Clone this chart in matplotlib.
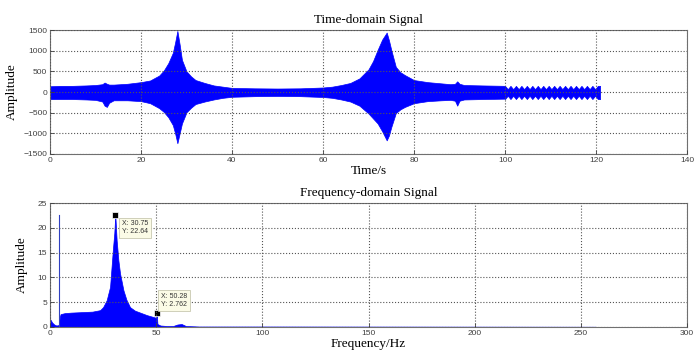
import matplotlib
matplotlib.use('Agg')
import matplotlib.pyplot as plt

# time-domain envelope (seconds, amplitude)
t_env = [0, 2, 5, 8, 10, 11.5, 12, 12.5, 13, 14, 17, 20, 22, 24, 25, 26, 27, 27.5, 28, 28.5,
         29, 30, 31, 32, 34, 36, 38, 40, 45, 50, 55, 60, 62, 64, 66, 68, 70, 71, 72, 73, 74,
         74.5, 75, 76, 77, 78, 80, 83, 86, 88, 89, 89.5, 90, 91, 95, 100]
t_upper = [140, 150, 150, 160, 170, 190, 230, 200, 180, 180, 200, 240, 280, 400, 520, 700, 950, 1200, 1480, 1150,
           780, 500, 380, 290, 220, 160, 130, 100, 90, 85, 90, 110, 130, 170, 220, 330, 550, 750, 1020, 1270, 1440,
           1250, 1020, 610, 480, 410, 290, 240, 210, 190, 200, 260, 200, 170, 160, 150]
t_lower = [-170, -170, -170, -180, -190, -230, -330, -360, -260, -200, -200, -220, -270, -390, -480, -610, -800, -1000, -1240, -1000,
           -760, -490, -380, -290, -230, -180, -140, -115, -100, -95, -100, -120, -140, -180, -230, -330, -520, -640, -760, -950, -1170,
           -1050, -850, -510, -420, -360, -270, -220, -200, -190, -210, -330, -210, -180, -170, -160]

# toothed tail of the signal (100 s to 121 s)
t_tail = [100, 100.6, 101.2, 101.8, 102.4, 103.0, 103.6, 104.2, 104.8, 105.4, 106.0, 106.6, 107.2, 107.8,
          108.4, 109.0, 109.6, 110.2, 110.8, 111.4, 112.0, 112.6, 113.2, 113.8, 114.4, 115.0, 115.6, 116.2,
          116.8, 117.4, 118.0, 118.6, 119.2, 119.8, 120.4, 120.9]
tail_upper = [150, 70, 150, 70, 150, 70, 150, 70, 150, 70, 150, 70, 150, 70, 150, 70, 150, 70,
              150, 70, 150, 70, 150, 70, 150, 70, 150, 70, 150, 70, 150, 70, 150, 70, 150, 150]
tail_lower = [-170, -90, -170, -90, -170, -90, -170, -90, -170, -90, -170, -90, -170, -90, -170, -90, -170, -90,
              -170, -90, -170, -90, -170, -90, -170, -90, -170, -90, -170, -90, -170, -90, -170, -90, -170, -170]

# frequency-domain envelope (Hz, amplitude)
f_env = [0, 0.5, 1, 2, 3, 4.3, 4.6, 5, 7, 10, 15, 20, 23.6, 25, 26.7, 28.3, 29.6, 30.3, 30.75, 31.4,
         32.2, 33, 34.6, 36, 37.7, 40, 45.6, 49.6, 50.0, 50.28, 50.6, 52, 55, 58, 60, 62, 64, 70, 100, 257]
f_amp = [1.6, 1.3, 0.9, 0.5, 0.3, 0.4, 2.0, 2.6, 2.8, 2.9, 3.0, 3.1, 3.4, 4.0, 5.4, 8.1, 15.5, 19.0, 22.64, 17.5,
         13.5, 10.8, 7.4, 5.5, 4.0, 3.3, 2.4, 1.9, 1.6, 2.762, 0.6, 0.3, 0.2, 0.2, 0.5, 0.6, 0.2, 0.1, 0.1, 0.05]
spike_f = 4.1
spike_amp = 22.6

tips = [(30.75, 22.64), (50.28, 2.762)]
tip_offsets = [((5, -4), 'top'), ((3, 4), 'bottom')]

plt.rcParams['font.family'] = 'Liberation Serif'
fig = plt.figure(figsize=(6.97, 3.54), dpi=100)
blue = (0, 0, 1)

def style(ax):
    ax.grid(True, linestyle=':', color='#555555', linewidth=0.8)
    ax.set_axisbelow(False)
    for s in ax.spines.values():
        s.set_color('#707070')
        s.set_linewidth(0.8)
    ax.tick_params(direction='in', length=3, width=0.6, color='#404040',
                   labelsize=6, labelcolor='#404040', pad=2)
    for lab in ax.get_xticklabels() + ax.get_yticklabels():
        lab.set_fontfamily('Liberation Sans')

ax1 = fig.add_axes([0.0717, 0.565, 0.914, 0.350])
ax1.fill_between(t_env, t_lower, t_upper, color=blue, linewidth=0.5, edgecolor=blue)
ax1.fill_between(t_tail, tail_lower, tail_upper, color=blue, linewidth=0.5, edgecolor=blue)
ax1.set_xlim(0, 140)
ax1.set_ylim(-1500, 1500)
ax1.set_xticks(range(0, 141, 20))
ax1.set_yticks(range(-1500, 1501, 500))
style(ax1)
ax1.set_title('Time-domain Signal', fontsize=9.5, pad=5)
ax1.set_xlabel('Time/s', fontsize=9.5, labelpad=1)
ax1.set_ylabel('Amplitude', fontsize=9.5)
ax1.yaxis.set_label_coords(-0.050, 0.5)

ax2 = fig.add_axes([0.0717, 0.0763, 0.914, 0.350])
ax2.fill_between(f_env, 0, f_amp, color=blue, linewidth=0.5, edgecolor=blue)
ax2.plot([spike_f, spike_f], [0, spike_amp], color='#3040c0', linewidth=0.8)
ax2.set_xlim(0, 300)
ax2.set_ylim(0, 25)
ax2.set_xticks(range(0, 301, 50))
ax2.set_yticks(range(0, 26, 5))
style(ax2)
ax2.set_title('Frequency-domain Signal', fontsize=9.5, pad=5)
ax2.set_xlabel('Frequency/Hz', fontsize=9.5, labelpad=1)
ax2.set_ylabel('Amplitude', fontsize=9.5)
ax2.yaxis.set_label_coords(-0.035, 0.5)

for (x, y), (off, va) in zip(tips, tip_offsets):
    ax2.plot(x, y, 's', color='black', markersize=4, markeredgecolor='white', markeredgewidth=0.5)
    ax2.annotate('X: %s\nY: %s' % (x, y), xy=(x, y), xytext=off, textcoords='offset points',
                 fontsize=5, family='Liberation Sans', va=va, ha='left', color='#333333',
                 bbox=dict(boxstyle='square,pad=0.4', fc='#fbfbe6', ec='#c8c8b0', lw=0.6))

fig.savefig('out.png', dpi=100)
